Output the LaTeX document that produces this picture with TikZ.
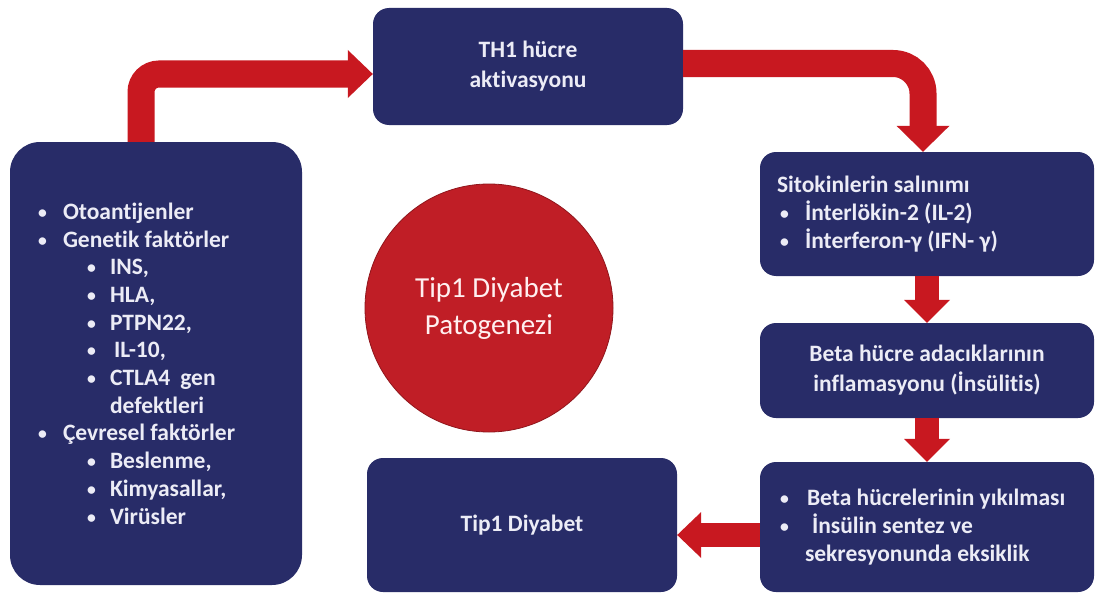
\documentclass[tikz,border=0pt]{standalone}
\usepackage{fontspec}
\setmainfont{Carlito}[RawFeature={-liga}]
\usetikzlibrary{arrows.meta,calc}
\definecolor{navy}{RGB}{40,44,104}
\definecolor{ared}{RGB}{200,24,32}
\definecolor{cred}{RGB}{192,30,38}
\definecolor{txt}{RGB}{236,236,246}
\newcommand\bitem[2]{\hspace*{#1}\makebox[#2][l]{\raisebox{1pt}{\scalebox{0.75}{•}}}}
\begin{document}
\begin{tikzpicture}[x=1pt,y=-1pt,
  box/.style={fill=navy, rounded corners=16pt, text=txt,
    font=\bfseries\fontsize{23.5}{27.7}\selectfont, inner sep=0pt, align=center},
  bigarrow/.style={draw=ared, line width=27pt,
    -{Triangle[length=25pt,width=48pt,line width=0pt]}},
  smallarrow/.style={draw=ared, line width=24pt,
    -{Triangle[length=23pt,width=46pt,line width=0pt]}},
]
\useasboundingbox (0,0) rectangle (1097,594);
\fill[white] (0,0) rectangle (1097,594);

% boxes
\node[box, rounded corners=30pt, minimum width=292pt, minimum height=443pt,
  text width=236pt, inner xsep=28pt, align=left] (lb) at (156,363.5) {%
\spaceskip=0pt\xspaceskip=0pt\relax
\bitem{0pt}{25pt}Otoantijenler\\
\bitem{0pt}{25pt}Genetik faktörler\\
\bitem{49pt}{23pt}INS,\\
\bitem{49pt}{23pt}HLA,\\
\bitem{49pt}{23pt}PTPN22,\\
\bitem{49pt}{23pt}\hspace*{4pt}IL-10,\\
\bitem{49pt}{23pt}CTLA4\hspace{0.2em} gen\\
\hspace*{72pt}defektleri\\
\bitem{0pt}{25pt}Çevresel faktörler\\
\bitem{49pt}{23pt}Beslenme,\\
\bitem{49pt}{23pt}Kimyasallar,\\
\bitem{49pt}{23pt}Virüsler};

\node[box, minimum width=310pt, minimum height=117pt,
  font=\bfseries\fontsize{23.5}{30}\selectfont] (th1) at (528,66.5)
  {TH1 hücre\\aktivasyonu};

\node[box, minimum width=334pt, minimum height=124pt,
  text width=300pt, inner xsep=17pt, align=left] (sk) at (927,214) {%
\spaceskip=0pt\xspaceskip=0pt\relax
Sitokinlerin salınımı\\
\bitem{3pt}{25pt}İnterlökin-2 (IL-2)\\
\bitem{3pt}{25pt}İnterferon-γ (IFN- γ)};

\node[box, minimum width=334pt, minimum height=95pt,
  font=\bfseries\fontsize{23.5}{30}\selectfont] (ad) at (927,370.5)
  {Beta hücre adacıklarının\\inflamasyonu (İnsülitis)};

\node[box, minimum width=334pt, minimum height=130pt,
  text width=294pt, inner xsep=20pt, align=left] (yk) at (927,527) {%
\spaceskip=0pt\xspaceskip=0pt\relax
\bitem{0pt}{27pt}Beta hücrelerinin yıkılması\\
\bitem{0pt}{27pt}\hspace*{5pt}İnsülin sentez ve\\
\hspace*{25pt}sekresyonunda eksiklik};

\node[box, minimum width=310pt, minimum height=134pt] (tp) at (522,525)
  {\raisebox{-4pt}{Tip1 Diyabet}};

% central circle
\node[circle, fill=cred, draw=cred!75!black, line width=0.8pt,
  minimum size=248pt, inner sep=0pt, text=white!94!red, align=center,
  font=\fontsize{29}{37}\selectfont] (c) at (489,308)
  {Tip1 Diyabet\\Patogenezi};

% arrows
\draw[bigarrow, rounded corners=18pt]
  ([xshift=-15pt]lb.north) |- ([yshift=-7.5pt]th1.west);
\draw[bigarrow, rounded corners=30pt, -{Triangle[length=26pt,width=53pt,line width=0pt]}]
  ([yshift=3pt]th1.east) -| ([xshift=-4pt]sk.north);
\draw[smallarrow] (sk.south) -- (ad.north);
\draw[smallarrow] (ad.south) -- (yk.north);
\draw[smallarrow, -{Triangle[length=24pt,width=46pt,line width=0pt]}]
  ([yshift=-8pt]yk.west) -- ([yshift=-8pt]yk.west -| tp.east);
\end{tikzpicture}
\end{document}
